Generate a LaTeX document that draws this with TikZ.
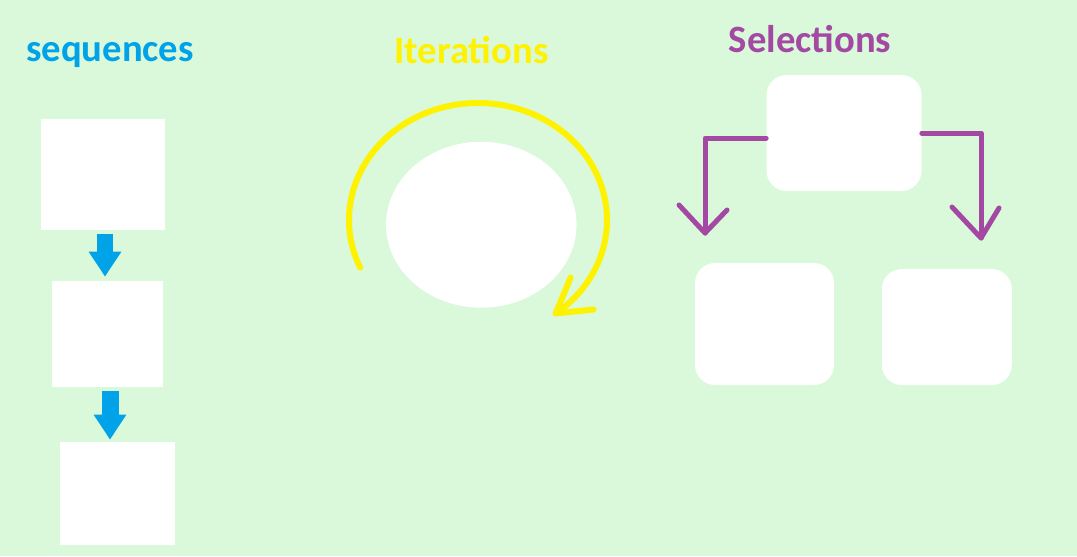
\documentclass[tikz,border=0pt]{standalone}
\usepackage{fontspec}
\setmainfont{Carlito}
\usepackage{tikz}
\usetikzlibrary{positioning,shapes,calc,arrows.meta}
\definecolor{mybg}{RGB}{218,248,218}
\definecolor{myblue}{RGB}{0,162,232}
\definecolor{myyellow}{RGB}{255,242,0}
\definecolor{mypurple}{RGB}{163,73,164}

\begin{document}
\begin{tikzpicture}[x=0.02cm,y=-0.02cm,
  title/.style={font=\bfseries\fontsize{22}{26}\selectfont,anchor=base,inner sep=0pt},
  seqbox/.style={fill=white,inner sep=0pt},
  selbox/.style={fill=white,inner sep=0pt,rounded corners=0.4cm},
  seqarrow/.style={myblue,line width=0.34cm,-{Triangle[width=0.62cm,length=0.5cm]}},
  iterline/.style={myyellow,line width=0.12cm,line cap=round,line join=round},
  selline/.style={mypurple,line width=0.1cm,line cap=round,line join=round}
]
\fill[mybg] (0,0) rectangle (1077,556);
\useasboundingbox (0,0) rectangle (1077,556);

% the titles
\node[title,myblue] (seqtitle) at (110,61.7) {sequences};
\node[title,myyellow] (itertitle) at (471.5,63.3) {Iterations};
\node[title,mypurple] (seltitle) at (810,52.3) {Selections};

% the sequence
\node[seqbox,minimum width=2.48cm,minimum height=2.22cm] (box1) at (103,174.5) {};
\node[seqbox,minimum width=2.22cm,minimum height=2.12cm] (box2) at (107.5,334) {};
\node[seqbox,minimum width=2.30cm,minimum height=2.06cm] (box3) at (117.5,493) {};
\draw[seqarrow] ([xshift=0.04cm,yshift=-0.08cm]box1.south) -- ([xshift=0.04cm,yshift=0.08cm]box1.south |- box2.north);
\draw[seqarrow] ([xshift=0.05cm,yshift=-0.08cm]box2.south) -- ([xshift=0.05cm,yshift=0.03cm]box2.south |- box3.north);

% the iteration
\node[ellipse,fill=white,inner sep=0pt,minimum width=3.81cm,minimum height=3.32cm] (loop) at (481.3,224.7) {};
\coordinate (loopc) at (478,220);
\draw[iterline] ($(loopc)+(156:129 and 117)$) arc[start angle=156,end angle=413,x radius=129,y radius=117] coordinate (looptip);
\draw[iterline] ($(looptip)+(15,-36)$) -- (looptip) -- +(38,-4);

% the selection
\node[selbox,minimum width=3.10cm,minimum height=2.32cm] (seltop) at (844,133) {};
\node[selbox,minimum width=2.78cm,minimum height=2.44cm] (selleft) at (764.5,324) {};
\node[selbox,minimum width=2.60cm,minimum height=2.32cm] (selright) at (946.8,327) {};
\coordinate (lefttip) at (705,233);
\coordinate (righttip) at (981,238);
\draw[selline] ([yshift=-0.1cm]seltop.west) -| (lefttip);
\draw[selline] ($(lefttip)+(-26,-28)$) -- (lefttip) -- +(22,-23);
\draw[selline] (seltop.east) -| (righttip);
\draw[selline] ($(righttip)+(-29,-31)$) -- (righttip) -- +(18,-30);
\end{tikzpicture}
\end{document}
